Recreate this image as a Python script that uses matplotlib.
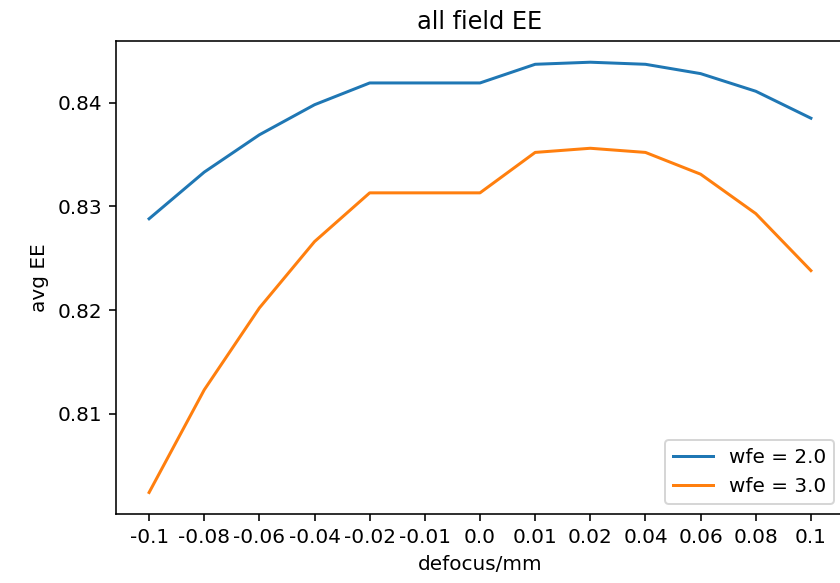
import matplotlib
matplotlib.use('Agg')
import matplotlib.pyplot as plt

# defocus values (used as categorical tick labels)
defocus = ['-0.1', '-0.08', '-0.06', '-0.04', '-0.02', '-0.01', '0.0',
           '0.01', '0.02', '0.04', '0.06', '0.08', '0.1']

# average EE per wfe level
ee_wfe2 = [0.8288, 0.8333, 0.8369, 0.8398, 0.8419, 0.8419, 0.8419,
           0.8437, 0.8439, 0.8437, 0.8428, 0.8411, 0.8385]
ee_wfe3 = [0.8024, 0.8123, 0.8202, 0.8266, 0.8313, 0.8313, 0.8313,
           0.8352, 0.8356, 0.8352, 0.8331, 0.8293, 0.8238]

series_labels = ['wfe = 2.0', 'wfe = 3.0']

fig = plt.figure(figsize=(840 / 144, 583 / 144), dpi=144)
ax = fig.add_axes([116 / 840, 1 - 514 / 583, (844 - 116) / 840, (514 - 40.7) / 583])

ax.plot(defocus, ee_wfe2, label=series_labels[0])
ax.plot(defocus, ee_wfe3, label=series_labels[1])

ax.set_yticks([0.81, 0.82, 0.83, 0.84])
ax.set_title('all field EE')
ax.set_xlabel('defocus/mm')
ax.set_ylabel('avg EE')
ax.legend(loc='lower right')

fig.savefig('out.png', dpi=144)
